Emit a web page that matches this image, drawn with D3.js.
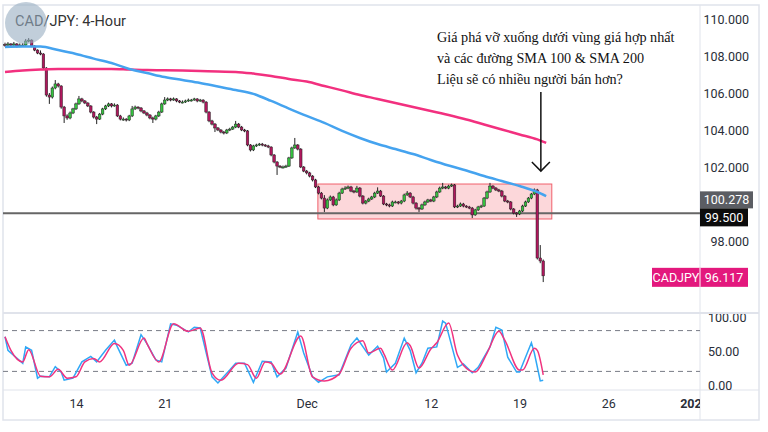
<!DOCTYPE html>
<html lang="vi">
<head>
<meta charset="UTF-8">
<title>CAD/JPY: 4-Hour</title>
<script src="https://cdn.jsdelivr.net/npm/d3@7"></script>
<style>
  body { margin: 0; background: #fff; }
  svg { display: block; font-family: Roboto, "Liberation Sans", sans-serif; }
</style>
</head>
<body>
<div id="container"></div>
<script>
// ---- data (4-hour bars, index 0 = first bar shown) ----
var firstOpen = 108.62;
var closes = [
  108.59,108.65,108.59,108.65,108.54,108.59,108.59,108.81,108.86,108.54,
  108.32,108.16,108.11,107.35,105.89,105.78,106.27,106.49,106.38,105.24,
  104.76,104.65,104.92,105.14,105.41,105.68,105.57,105.46,105.30,104.97,
  104.70,104.59,104.86,105.14,105.30,105.41,105.30,105.35,104.76,104.59,
  104.59,104.54,104.76,105.14,105.24,105.19,105.03,104.92,104.81,104.65,
  104.59,104.76,104.97,105.41,105.62,105.68,105.62,105.68,105.57,105.51,
  105.51,105.57,105.62,105.62,105.68,105.57,105.62,105.51,104.97,104.49,
  104.32,104.11,104.00,103.89,103.84,104.00,104.05,104.16,104.32,104.16,
  104.00,103.95,103.19,102.92,103.14,103.19,103.24,103.19,103.14,103.08,
  102.65,102.27,102.05,102.00,102.00,102.05,102.49,103.03,103.19,102.97,
  102.00,101.78,101.68,101.51,101.30,100.92,100.59,100.32,99.78,100.22,
  100.38,99.95,100.22,100.59,100.81,100.86,100.92,100.70,100.65,100.86,
  100.43,100.05,100.16,100.27,100.38,100.59,100.70,100.43,100.00,99.95,
  99.89,100.11,100.11,100.05,100.16,100.49,100.59,100.38,100.05,99.78,
  99.73,99.95,100.11,100.22,100.16,100.38,100.65,100.86,100.92,100.86,
  100.97,101.03,99.84,99.89,100.00,99.89,99.84,99.78,99.41,99.68,
  99.84,99.89,100.32,100.65,100.97,100.86,100.76,100.70,100.43,100.16,
  100.11,99.73,99.51,99.46,99.62,99.89,100.11,100.32,100.54,100.76,
  97.08,96.92,96.117];
var highs = [
  108.72,108.75,108.70,108.76,108.70,108.68,108.70,108.92,108.97,108.90,
  108.58,108.36,108.30,108.15,107.40,106.00,106.35,106.70,106.55,106.42,
  105.30,104.85,105.00,105.20,105.48,105.84,105.74,105.62,105.50,105.34,
  105.02,104.76,104.92,105.20,105.36,105.48,105.46,105.44,105.40,104.82,
  104.68,104.64,104.82,105.30,105.32,105.28,105.24,105.08,104.98,104.86,
  104.72,104.82,105.04,105.48,105.78,105.76,105.74,105.76,105.72,105.62,
  105.60,105.64,105.70,105.68,105.74,105.72,105.68,105.66,105.56,105.02,
  104.55,104.38,104.16,104.05,103.95,104.06,104.12,104.22,104.49,104.38,
  104.22,104.06,104.00,103.24,103.20,103.26,103.30,103.30,103.24,103.20,
  103.12,102.70,102.32,102.10,102.08,102.12,102.55,103.10,103.57,103.24,
  103.02,102.05,101.84,101.74,101.56,101.36,100.98,100.65,100.48,100.30,
  100.46,100.44,100.30,100.66,100.88,100.96,101.00,100.98,100.76,100.98,
  100.92,100.48,100.22,100.34,100.44,100.66,100.90,100.76,100.48,100.06,
  100.02,100.18,100.18,100.16,100.22,100.56,100.70,100.64,100.44,100.10,
  99.84,100.02,100.18,100.28,100.28,100.44,100.72,100.94,101.14,100.98,
  101.04,101.10,101.08,99.96,100.08,100.06,99.94,99.90,99.84,99.74,
  99.90,99.96,100.38,100.72,101.14,101.02,100.92,100.82,100.76,100.48,
  100.22,100.16,99.78,99.56,99.68,99.96,100.18,100.38,100.60,100.84,
  100.82,97.78,97.00];
var lows = [
  108.50,108.52,108.52,108.55,108.46,108.48,108.50,108.55,108.74,108.48,
  108.26,108.10,108.04,107.30,105.80,105.41,105.70,106.20,106.30,105.15,
  104.38,104.55,104.58,104.86,105.08,105.36,105.50,105.40,105.24,104.90,
  104.62,104.32,104.54,104.80,105.08,105.24,105.22,105.26,104.70,104.52,
  104.50,104.46,104.48,104.70,105.08,105.12,104.96,104.86,104.74,104.58,
  104.38,104.52,104.70,104.92,105.36,105.56,105.55,105.58,105.50,105.45,
  105.44,105.46,105.52,105.54,105.58,105.50,105.52,105.44,104.90,104.42,
  104.25,103.89,103.94,103.82,103.76,103.78,103.94,104.00,104.10,104.10,
  103.94,103.88,103.12,102.84,102.86,103.08,103.14,103.12,103.08,103.02,
  102.58,102.20,101.57,101.94,101.92,101.95,102.00,102.44,102.98,102.90,
  101.94,101.72,101.60,101.44,101.22,100.86,100.52,100.25,99.57,99.72,
  100.16,99.88,99.90,100.16,100.54,100.76,100.80,100.64,100.58,100.60,
  100.36,99.98,99.98,100.10,100.22,100.32,100.54,100.38,99.94,99.88,
  99.82,99.84,100.04,99.98,99.98,100.10,100.44,100.32,99.98,99.70,
  99.57,99.68,99.90,100.06,100.10,100.10,100.32,100.60,100.80,100.80,
  100.80,100.92,99.78,99.78,99.84,99.82,99.78,99.72,99.24,99.36,
  99.62,99.78,99.84,100.26,100.60,100.80,100.70,100.64,100.36,100.10,
  100.04,99.66,99.44,99.30,99.40,99.56,99.84,100.06,100.26,100.48,
  97.00,96.80,95.78];

// moving averages read once per trading day
var smaIdx = [0,6,12,18,24,30,36,42,48,54,60,66,72,78,84,90,96,102,108,114,120,126,132,138,144,150,156,162,168,174,180,183];
var sma100 = [108.49,108.51,108.51,108.32,108.11,107.86,107.62,107.30,107.08,106.86,106.70,106.54,106.35,106.16,105.95,105.57,105.16,104.76,104.38,103.95,103.57,103.24,102.97,102.70,102.38,102.08,101.81,101.51,101.24,100.97,100.65,100.43];
var sma200 = [107.14,107.22,107.27,107.30,107.30,107.30,107.30,107.27,107.24,107.23,107.21,107.19,107.16,107.14,107.05,106.92,106.76,106.62,106.38,106.14,105.89,105.68,105.46,105.24,105.03,104.81,104.57,104.30,104.03,103.76,103.49,103.30];

// stochastic %K and %D turning points
var kIdx = [0,1,6,7,9,11,12,15,17,19,20,23,26,29,31,34,37,38,41,43,46,48,51,53,56,58,62,64,66,70,72,76,78,81,84,87,90,92,95,99,101,104,106,109,113,117,119,123,126,128,129,132,135,137,139,141,143,146,148,149,153,155,158,160,164,166,168,170,173,174,178,179,181,182];
var kVal = [71,51,32,56,51,10,13,12,27,19,7,10,34,42,34,51,66,56,29,32,74,61,37,34,90,88,78,85,84,12,3,22,32,32,4,35,34,12,25,78,47,12,4,12,15,59,69,44,57,40,19,32,69,51,18,32,54,56,94,91,26,31,18,26,56,85,81,41,19,19,62,47,6,7];
var dIdx = [0,2,6,8,12,15,18,21,24,27,30,32,37,40,42,47,48,52,57,62,66,70,73,79,82,85,88,90,93,100,104,108,113,117,121,123,127,128,131,136,137,140,144,146,150,153,155,159,163,167,169,174,175,179,180,182];
var dVal = [71,51,34,52,13,12,23,10,12,34,39,34,61,51,29,69,61,34,90,79,84,18,7,32,30,10,34,32,16,72,12,6,16,54,65,47,54,47,22,62,58,25,53,62,91,44,29,19,47,79,66,22,22,54,51,15];

var priceTicks = [110, 108, 106, 104, 102, 98];
var stochTicks = [100, 50, 0];
var stochBands = [80, 20];
var dateIdx = [24, 54, 102, 144, 174, 204, 233];
var dateLbl = ["14", "21", "Dec", "12", "19", "26", "2023"];

var lastPrice = 96.117, smaLabel = 100.278, level = 99.5;
var zone = { from: 105.8, to: 184.9, hi: 101.08, lo: 99.19 };
var arrow = { at: 181.2, top: 106.05, tip: 101.78 };
var noteLines = ["Giá phá vỡ xuống dưới vùng giá hợp nhất",
                 "và các đường SMA 100 & SMA 200",
                 "Liệu sẽ có nhiều người bán hơn?"];

// ---- layout ----
var W = 768, H = 432;
var L = 3, T = 5, R = 759, B = 420, AX = 700, SPLIT = 313, SB = 390;

var svg = d3.select("#container").append("svg").attr("width", W).attr("height", H);

var x = d3.scaleLinear().domain([0, 234]).range([5, 697]);
var y = d3.scaleLinear().domain([96, 110]).range([278, 19]);
var ys = d3.scaleLinear().domain([0, 100]).range([385, 317]);

var defs = svg.append("defs");
defs.append("clipPath").attr("id", "pane").append("rect").attr("x", L).attr("y", T).attr("width", AX - L).attr("height", SPLIT - T);
defs.append("clipPath").attr("id", "spane").append("rect").attr("x", L).attr("y", SPLIT).attr("width", AX - L).attr("height", SB - SPLIT);
defs.append("clipPath").attr("id", "taxis").append("rect").attr("x", L).attr("y", SB).attr("width", AX - L).attr("height", B - SB);
defs.append("clipPath").attr("id", "saxis").append("rect").attr("x", AX).attr("y", SPLIT + 1).attr("width", R - AX).attr("height", SB - SPLIT - 1);

// frame
var frameCol = "#e0e3eb";
svg.append("rect").attr("x", L).attr("y", T).attr("width", R - L).attr("height", B - T)
    .attr("fill", "none").attr("stroke", frameCol).attr("stroke-width", 1.5);
svg.append("line").attr("x1", AX).attr("x2", AX).attr("y1", T).attr("y2", B).attr("stroke", frameCol);
svg.append("line").attr("x1", L).attr("x2", R).attr("y1", SPLIT).attr("y2", SPLIT).attr("stroke", frameCol).attr("stroke-width", 2);
svg.append("line").attr("x1", L).attr("x2", R).attr("y1", SB).attr("y2", SB).attr("stroke", frameCol);

// price pane
var pane = svg.append("g").attr("clip-path", "url(#pane)");

pane.append("rect")
    .attr("x", x(zone.from)).attr("width", x(zone.to) - x(zone.from))
    .attr("y", y(zone.hi)).attr("height", y(zone.lo) - y(zone.hi))
    .attr("fill", "rgba(242,54,69,0.2)").attr("stroke", "#f0606c").attr("stroke-width", 1);

pane.append("line").attr("x1", L).attr("x2", AX).attr("y1", y(level)).attr("y2", y(level))
    .attr("stroke", "#666").attr("stroke-width", 2);

var bars = closes.map(function (c, i) {
    return { i: i, o: i ? closes[i - 1] : firstOpen, h: highs[i], l: lows[i], c: c };
});

var candle = pane.append("g").selectAll("g").data(bars).enter().append("g");
candle.append("line")
    .attr("x1", d => x(d.i)).attr("x2", d => x(d.i))
    .attr("y1", d => y(d.h)).attr("y2", d => y(d.l))
    .attr("stroke", "#222").attr("stroke-width", 1);
candle.append("rect")
    .attr("x", d => x(d.i) - 1.3).attr("width", 2.6)
    .attr("y", d => y(Math.max(d.o, d.c)))
    .attr("height", d => Math.max(1, Math.abs(y(d.o) - y(d.c))))
    .attr("fill", d => d.c >= d.o ? "#35c23f" : "#b0175d")
    .attr("stroke", "#222").attr("stroke-width", 0.5);

var smaLine = d3.line().x((d, i) => x(smaIdx[i])).y(d => y(d)).curve(d3.curveMonotoneX);
pane.append("path").datum(sma200).attr("d", smaLine).attr("fill", "none").attr("stroke", "#f2307f").attr("stroke-width", 2.5);
pane.append("path").datum(sma100).attr("d", smaLine).attr("fill", "none").attr("stroke", "#45a3ef").attr("stroke-width", 2.5);

// annotation
var note = svg.append("g").attr("font-family", "'Liberation Serif', 'DejaVu Serif', serif")
    .attr("font-size", 14.2).attr("fill", "#111");
note.selectAll("text").data(noteLines).enter().append("text")
    .attr("x", 437).attr("y", (d, i) => 42 + i * 21).text(d => d);

svg.append("line").attr("x1", x(arrow.at)).attr("x2", x(arrow.at))
    .attr("y1", y(arrow.top)).attr("y2", y(arrow.tip)).attr("stroke", "#111").attr("stroke-width", 1.5);
svg.append("path")
    .attr("d", "M" + (x(arrow.at) - 9) + "," + (y(arrow.tip) - 9) + "L" + x(arrow.at) + "," + y(arrow.tip) + "L" + (x(arrow.at) + 9) + "," + (y(arrow.tip) - 9))
    .attr("fill", "none").attr("stroke", "#111").attr("stroke-width", 1.5);

// title + logo
svg.append("text").attr("x", 15).attr("y", 26).attr("font-size", 14.5).attr("fill", "#333").text("CAD/JPY: 4-Hour");
svg.append("circle").attr("cx", 26).attr("cy", 23).attr("r", 21).attr("fill", "#98adc2").attr("opacity", 0.6);

// price axis
var pAxis = svg.append("g").attr("transform", "translate(" + AX + ",0)")
    .call(d3.axisRight(y).tickValues(priceTicks).tickFormat(d3.format(".3f")).tickSize(0).tickPadding(0));
pAxis.select(".domain").remove();
pAxis.selectAll("text").attr("x", 49).attr("text-anchor", "end")
    .attr("font-family", "Roboto, sans-serif").attr("font-size", 12.5).attr("fill", "#2a2e39");

function tag(yc, x0, x1, h, fill, label) {
    svg.append("rect").attr("x", x0).attr("y", yc - h / 2).attr("width", x1 - x0).attr("height", h).attr("fill", fill);
    svg.append("text").attr("x", (x0 + x1) / 2).attr("y", yc).attr("dy", "0.36em")
        .attr("text-anchor", "middle").attr("font-size", 12.5).attr("fill", "#fff").text(label);
}
var gy = y(smaLabel) + 1;
tag(gy, AX, 753, 17, "#5b5d63", d3.format(".3f")(smaLabel));
tag(gy + 17.5, AX, 748, 18, "#0c0c0c", d3.format(".3f")(level));
var py = y(lastPrice) + 1.5;
svg.append("rect").attr("x", 652).attr("y", py - 9.5).attr("width", 96).attr("height", 19).attr("fill", "#e3187d");
svg.append("line").attr("x1", AX).attr("x2", AX).attr("y1", py - 9.5).attr("y2", py + 9.5).attr("stroke", "#fff");
svg.append("text").attr("x", 676).attr("y", py).attr("dy", "0.36em").attr("text-anchor", "middle")
    .attr("font-size", 12.5).attr("fill", "#fff").text("CADJPY");
svg.append("text").attr("x", 724).attr("y", py).attr("dy", "0.36em").attr("text-anchor", "middle")
    .attr("font-size", 12.5).attr("fill", "#fff").text(d3.format(".3f")(lastPrice));

// stochastic pane
var sp = svg.append("g").attr("clip-path", "url(#spane)");
sp.selectAll("line.band").data(stochBands).enter().append("line").attr("class", "band")
    .attr("x1", L).attr("x2", AX).attr("y1", d => ys(d)).attr("y2", d => ys(d))
    .attr("stroke", "#787b86").attr("stroke-dasharray", "5,4");
var kLine = d3.line().x((d, i) => x(kIdx[i])).y(d => ys(d));
var dLine = d3.line().x((d, i) => x(dIdx[i])).y(d => ys(d)).curve(d3.curveMonotoneX);
sp.append("path").datum(kVal).attr("d", kLine).attr("fill", "none").attr("stroke", "#2fa8f6").attr("stroke-width", 1.5);
sp.append("path").datum(dVal).attr("d", dLine).attr("fill", "none").attr("stroke", "#f0337f").attr("stroke-width", 1.5);

var sAxis = svg.append("g").attr("clip-path", "url(#saxis)").append("g").attr("transform", "translate(" + AX + ",0)")
    .call(d3.axisRight(ys).tickValues(stochTicks).tickFormat(d3.format(".2f")).tickSize(0).tickPadding(8));
sAxis.select(".domain").remove();
sAxis.selectAll("text").attr("font-family", "Roboto, sans-serif").attr("font-size", 12.5).attr("fill", "#2a2e39");

// time axis
var tAxis = svg.append("g").attr("clip-path", "url(#taxis)").append("g").attr("transform", "translate(0," + SB + ")")
    .call(d3.axisBottom(x).tickValues(dateIdx).tickFormat((d, i) => dateLbl[i]).tickSize(0).tickPadding(9));
tAxis.select(".domain").remove();
tAxis.selectAll("text").attr("font-family", "Roboto, sans-serif").attr("font-size", 12.5).attr("fill", "#2a2e39")
    .attr("font-weight", (d, i) => dateLbl[i] === "2023" ? "bold" : null);
</script>
</body>
</html>
